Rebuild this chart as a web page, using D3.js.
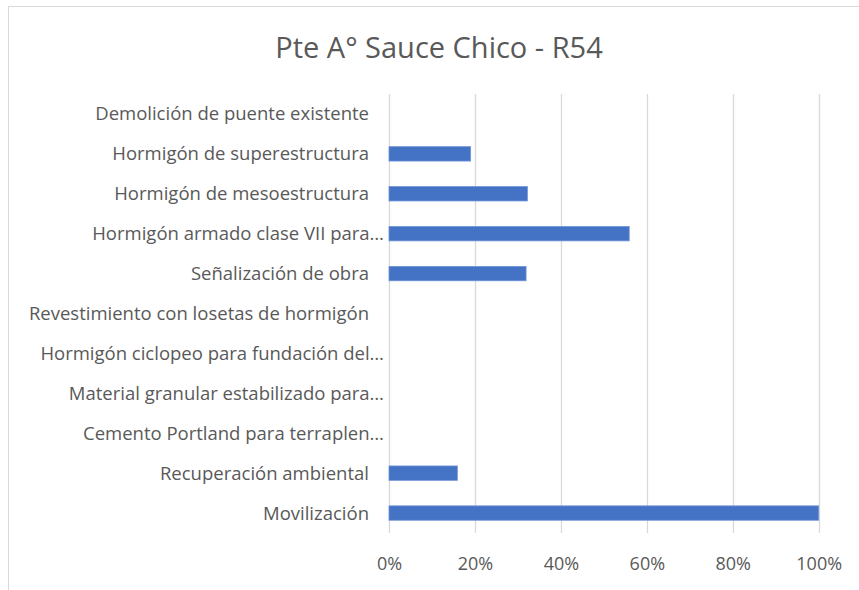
<!DOCTYPE html>
<html>
<head>
<meta charset="utf-8">
<script src="https://cdn.jsdelivr.net/npm/d3@7"></script>
<style>
  body { margin: 0; background: #fff; }
  svg { display: block; font-family: "Open Sans", "Liberation Sans", sans-serif; }
</style>
</head>
<body>
<div id="chart"></div>
<script>
const chartTitle = 'Pte A° Sauce Chico - R54'

// top to bottom, as in the picture
const categories = [
  'Demolición de puente existente',
  'Hormigón de superestructura',
  'Hormigón de mesoestructura',
  'Hormigón armado clase VII para…',
  'Señalización de obra',
  'Revestimiento con losetas de hormigón',
  'Hormigón ciclopeo para fundación del…',
  'Material granular estabilizado para…',
  'Cemento Portland para terraplen…',
  'Recuperación ambiental',
  'Movilización'
]

const values = [0, 0.19, 0.322, 0.559, 0.319, 0, 0, 0, 0, 0.159, 1.0]

const xTicks = [0, 0.2, 0.4, 0.6, 0.8, 1]

const width = 859, height = 590
const margin = {top: 94, right: 40, bottom: 57, left: 389}

const svg = d3.select('#chart')
  .append('svg')
  .attr('width', width)
  .attr('height', height)

// chart frame
svg.append('rect')
  .attr('x', 8.5)
  .attr('y', 6.5)
  .attr('width', 900)
  .attr('height', 700)
  .attr('fill', '#fff')
  .attr('stroke', '#d9d9d9')

svg.append('text')
  .attr('x', 439)
  .attr('y', 58)
  .attr('text-anchor', 'middle')
  .style('font-size', '29px')
  .style('fill', '#595959')
  .text(chartTitle)

let x = d3.scaleLinear()
  .domain([0, 1])
  .range([margin.left, 818.7])

let y = d3.scaleBand()
  .domain(categories)
  .range([margin.top, height - margin.bottom])
  .paddingInner(0.64)
  .paddingOuter(0.32)

// gridlines
svg.append('g')
  .selectAll('line')
  .data(xTicks)
  .enter()
  .append('line')
  .attr('x1', d => Math.round(x(d)) + 0.5)
  .attr('x2', d => Math.round(x(d)) + 0.5)
  .attr('y1', margin.top)
  .attr('y2', height - margin.bottom)
  .style('stroke', '#d9d9d9')
  .style('stroke-width', 1.3)

const xAxis = svg.append('g')
  .attr('transform', 'translate(0,' + (height - margin.bottom) + ')')
  .call(d3.axisBottom(x).tickValues(xTicks).tickFormat(d3.format('.0%')).tickSize(0))

xAxis.select('.domain').remove()
xAxis.selectAll('.tick text')
  .attr('y', 37)
  .attr('dy', 0)
  .style('font-family', '"Open Sans", sans-serif')
  .style('font-size', '18px')
  .style('fill', '#595959')

// bars
svg.append('g')
  .selectAll('rect')
  .data(values)
  .enter()
  .filter(d => d > 0)
  .append('rect')
  .attr('x', x(0))
  .attr('y', (d, i) => y(categories[values.indexOf(d)]))
  .attr('width', d => x(d) - x(0))
  .attr('height', y.bandwidth())
  .style('fill', '#4472c4')
  .style('stroke', '#6f93d6')
  .style('stroke-width', 0.8)

// category labels, truncated ones sit a bit further right
svg.append('g')
  .selectAll('text')
  .data(categories)
  .enter()
  .append('text')
  .attr('x', d => d.endsWith('…') ? 384 : 369)
  .attr('y', d => y(d) + y.bandwidth() / 2)
  .attr('dy', '0.35em')
  .attr('text-anchor', 'end')
  .style('font-size', '18.5px')
  .style('fill', '#595959')
  .text(d => d)
</script>
</body>
</html>
